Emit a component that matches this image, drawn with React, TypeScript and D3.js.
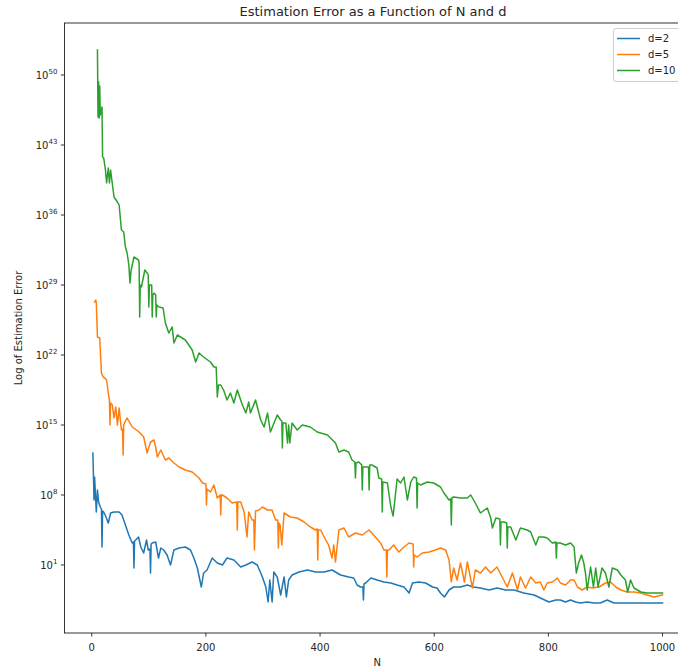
import React from "react";
import * as d3 from "d3";

// [N, log10(estimation error)] pairs
const d2Points: [number, number][] = [[2,12.2],[4,7.5],[5,9.8],[8,6.3],[10,8.5],[12,7.3],[15,6.8],[17,6.6],[18,2.8],[19,6.4],[21,6.3],[25,5.8],[29,5.2],[33,6.2],[39,6.3],[48,6.3],[53,6],[59,5],[65,4],[71,3.2],[73,3.3],[74,0.7],[75,3.4],[77,3.5],[82,3.8],[86,2.8],[91,2.2],[96,3.5],[99,2.5],[102,2.6],[103,0.2],[104,3.1],[106,3.2],[112,3.3],[117,1.7],[121,2.7],[126,2.5],[132,2],[138,1],[144,2.5],[153,2.7],[164,2.8],[173,2.5],[179,1.7],[185,0.7],[192,-1.2],[196,0.2],[202,0.5],[211,1.7],[220,1.2],[229,1],[237,1.7],[249,1.5],[261,0.8],[270,1],[281,1.3],[290,1],[299,-0.2],[305,-1.2],[309,-2.7],[312,-0.5],[316,-2.7],[319,0.3],[325,-0.2],[331,-2],[337,-0.2],[341,-2.2],[345,-0.5],[351,0],[363,0.3],[378,0.5],[392,0.3],[407,0.3],[421,0.5],[436,0],[450,-0.2],[459,-0.3],[465,-1],[471,-1.2],[475,-1.2],[476,-2.5],[477,-0.9],[480,-0.8],[489,-0.3],[500,-0.5],[512,-0.7],[524,-0.8],[535,-1],[547,-1.2],[556,-1.8],[562,-0.8],[573,-0.7],[585,-0.8],[597,-1.2],[605,-1.3],[611,-1.8],[618,-2.2],[626,-1.5],[634,-1.2],[646,-1.2],[658,-1],[669,-1.2],[681,-1.3],[696,-1.5],[710,-1.3],[725,-1.5],[740,-1.5],[757,-1.8],[775,-2],[786,-2.3],[801,-2.7],[813,-2.5],[821,-2.5],[830,-2.7],[839,-2.5],[848,-2.7],[856,-2.8],[868,-2.7],[880,-2.8],[891,-2.8],[903,-2.5],[915,-2.8],[932,-2.8],[950,-2.8],[967,-2.8],[1000,-2.8]];

const d5Points: [number, number][] = [[5,27.3],[7,27.5],[8,27.2],[10,23.8],[14,23.7],[17,20.2],[20,19.8],[23,19.7],[26,19.5],[29,18.2],[31,17.5],[32,15],[33,17.2],[36,17],[39,15.7],[42,16.8],[45,15],[48,16.7],[52,14.5],[54,14.6],[55,12],[56,15],[58,15.3],[62,15.7],[71,14.8],[83,14.3],[91,13.8],[97,12.2],[103,13.3],[109,13.5],[112,12.8],[115,11.8],[121,12.5],[129,11.5],[135,11.7],[144,11.2],[153,10.8],[164,10.5],[176,10.3],[182,10],[188,9.7],[194,9.2],[200,9.1],[201,7],[202,8.6],[208,8.3],[214,9],[220,7.7],[225,8],[226,6],[227,8],[229,8],[237,7.7],[246,7.2],[254,7.3],[255,4.5],[256,7.3],[261,7.3],[267,6.3],[270,4.8],[272,3.8],[275,6.3],[281,5.5],[284,5.5],[285,2.5],[287,6.4],[293,6.5],[299,6.8],[308,6.5],[316,6.5],[322,5.5],[326,5.5],[327,2.7],[328,5.2],[330,5],[333,3],[337,6.2],[348,5.8],[360,5.7],[372,5.3],[383,4.8],[392,4.5],[395,4.6],[396,1.5],[397,4.5],[401,4.5],[410,3.5],[415,3],[421,1.7],[424,3],[427,1.3],[433,4.5],[442,4.7],[450,3.8],[462,4.2],[474,4],[486,4.5],[497,3.8],[506,3.2],[512,2.5],[516,2.5],[517,-0.2],[518,2.5],[521,2.5],[529,3],[538,2.3],[547,2.8],[556,3.2],[563,3.1],[564,0.8],[565,2],[570,1.8],[579,2.2],[591,2.3],[602,2.5],[611,2.7],[620,2.5],[626,1.5],[630,-0.7],[634,0.7],[640,-0.5],[646,1.2],[653,-0.7],[658,1.3],[667,-1.3],[672,0.5],[681,0.2],[690,0.8],[699,0.2],[710,0.8],[719,-0.2],[728,-1.2],[737,0.2],[746,-1.5],[751,-0.2],[760,-1.3],[769,-0.2],[778,-0.8],[786,-0.7],[792,-1.5],[798,-0.8],[807,-0.7],[816,-0.3],[821,-0.8],[830,-1],[839,-0.5],[845,-0.5],[851,-1.2],[859,-1.5],[868,-1.2],[877,-1.3],[889,-1.2],[900,-0.8],[909,-0.7],[918,-1.2],[927,-1.5],[938,-1.7],[950,-1.7],[962,-1.8],[973,-2],[985,-2.2],[1000,-2]];

const d10Points: [number, number][] = [[10,52.5],[11,45.8],[12,49.3],[13,45.7],[14,48.9],[15,46],[18,46.8],[19,41.8],[21,41.7],[24,40.5],[26,39.2],[29,40.7],[31,39.2],[33,40.5],[39,37.8],[45,37.3],[48,37],[52,34.5],[56,34.3],[59,32.8],[62,32.2],[65,31],[67,29.2],[69,30.5],[74,31.8],[82,31.5],[83,31.2],[84,25.8],[85,29],[87,28.8],[93,30.5],[97,30.2],[99,30],[100,26.8],[101,29],[103,29],[105,29],[106,25.8],[107,28],[109,28.2],[112,28],[113,25.8],[114,27],[118,26.8],[125,26.7],[129,25.2],[135,24.2],[141,24.8],[144,23.2],[150,24],[164,23.5],[176,22.5],[182,21.3],[188,22.2],[196,21.8],[208,21.3],[214,20.8],[218,20.8],[220,17.8],[222,19],[226,19],[231,18.5],[237,17.5],[243,18.2],[249,17.2],[255,18.5],[264,17],[270,16.2],[275,17.3],[278,16.2],[287,17.5],[296,15.5],[302,14.8],[308,16.2],[313,14.3],[325,16],[331,15.5],[333,15.4],[334,12.7],[335,15.2],[340,15.2],[343,13.2],[345,15],[347,13.2],[351,15.2],[360,14.5],[369,15],[383,14.8],[395,14.3],[413,14],[427,13.2],[433,12.3],[442,12.5],[450,12.3],[456,11.5],[461,11.3],[462,9.7],[463,11.2],[468,11.3],[473,11],[474,8.5],[475,10.8],[480,10.8],[485,10.8],[486,8.5],[487,11],[491,11],[500,10.7],[503,9.7],[508,9.6],[509,6.3],[510,9.3],[518,9.2],[524,6.8],[528,5.9],[535,9.6],[541,9.2],[547,9.8],[553,7.5],[559,9.3],[564,9.8],[569,9.7],[570,6.7],[571,9.2],[576,9],[588,9.3],[599,9.2],[611,8.8],[617,8.2],[626,7.5],[629,7.6],[630,5],[631,7.7],[634,7.8],[646,7.7],[658,7.7],[664,8],[672,7.2],[681,6.2],[693,6.7],[699,5.7],[702,4.7],[708,5.7],[715,5.6],[716,3],[717,5.3],[722,5.3],[727,5.2],[728,2.7],[729,4.8],[734,4.8],[743,3.5],[751,4.7],[763,4.5],[769,4.3],[778,3],[783,3.8],[792,3.8],[798,3.7],[807,3.2],[813,3.3],[814,1.7],[815,3.2],[821,3.2],[830,3],[839,3.2],[845,2.8],[849,0.2],[853,1.2],[858,2],[862,1.2],[865,0.2],[868,-1.5],[874,0.8],[879,-1.2],[883,0.7],[887,-1.2],[894,0.7],[900,0.2],[906,-1.2],[912,0.7],[921,0.5],[927,0],[935,-0.5],[939,-1.7],[944,-0.5],[950,-1.3],[962,-1.7],[973,-1.8],[1000,-1.8]];

const seriesNames = ["d=2", "d=5", "d=10"];
const seriesColors = ["#1f77b4", "#ff7f0e", "#2ca02c"];
const xTicks = [0, 200, 400, 600, 800, 1000];
const yTickExps = [1, 8, 15, 22, 29, 36, 43, 50];

const W = 678, H = 668;
const L = 64.4, R = 691, T = 23, B = 633;
const FONT = "DejaVu Sans, sans-serif";

export default function App() {
  const x = d3.scaleLinear().domain([-47.9, 1049.9]).range([L, R]);
  const y = d3.scaleLog().domain([Math.pow(10, -5.8), Math.pow(10, 55.2)]).range([B, T]);
  const series = [d2Points, d5Points, d10Points].map((pts) =>
    pts.map(([n, e]) => ({ n, v: Math.pow(10, e) }))
  );
  const line = d3
    .line<{ n: number; v: number }>()
    .x((d) => x(d.n))
    .y((d) => y(d.v));

  return (
    <svg
      width={W}
      height={H}
      style={{ position: "absolute", left: 0, top: 0, background: "white" }}
      fontFamily={FONT}
    >
      <defs>
        <clipPath id="plot">
          <rect x={L} y={T} width={R - L} height={B - T} />
        </clipPath>
      </defs>
      <rect x={0} y={0} width={W} height={H} fill="white" />
      <g clipPath="url(#plot)">
        {series.map((s, i) => (
          <path
            key={i}
            d={line(s) || ""}
            fill="none"
            stroke={seriesColors[i]}
            strokeWidth={1.5}
            strokeLinejoin="round"
            strokeLinecap="square"
          />
        ))}
      </g>
      <rect x={L} y={T} width={R - L} height={B - T} fill="none" stroke="#000" strokeWidth={0.8} />
      {xTicks.map((t) => (
        <g key={t}>
          <line x1={x(t)} x2={x(t)} y1={B} y2={B + 3.5} stroke="#000" strokeWidth={0.8} />
          <text x={x(t)} y={B + 17.5} fontSize={10} textAnchor="middle" fill="#262626">
            {t}
          </text>
        </g>
      ))}
      {yTickExps.map((e) => {
        const yy = y(Math.pow(10, e));
        return (
          <g key={e}>
            <line x1={L - 3.5} x2={L} y1={yy} y2={yy} stroke="#000" strokeWidth={0.8} />
            <text x={L - 7} y={yy + 4} fontSize={10} textAnchor="end" fill="#262626">
              <tspan>10</tspan>
              <tspan fontSize={7} dy={-5}>
                {e}
              </tspan>
            </text>
          </g>
        );
      })}
      <text x={373} y={16} fontSize={13} textAnchor="middle" fill="#262626">
        Estimation Error as a Function of N and d
      </text>
      <text x={(x(0) + x(1000)) / 2} y={666} fontSize={10} textAnchor="middle" fill="#262626">
        N
      </text>
      <text
        transform={`translate(22, ${(T + B) / 2}) rotate(-90)`}
        fontSize={10}
        textAnchor="middle"
        fill="#262626"
      >
        Log of Estimation Error
      </text>
      <g>
        <rect x={613.5} y={28.5} width={80} height={53} rx={2.5} fill="white" fillOpacity={0.8} stroke="#cccccc" strokeWidth={1} />
        {seriesNames.map((name, i) => (
          <g key={name}>
            <line x1={617} x2={640} y1={38.5 + i * 16} y2={38.5 + i * 16} stroke={seriesColors[i]} strokeWidth={1.5} />
            <text x={648} y={38.5 + i * 16 + 3.5} fontSize={10} fill="#262626">
              {name}
            </text>
          </g>
        ))}
      </g>
    </svg>
  );
}
